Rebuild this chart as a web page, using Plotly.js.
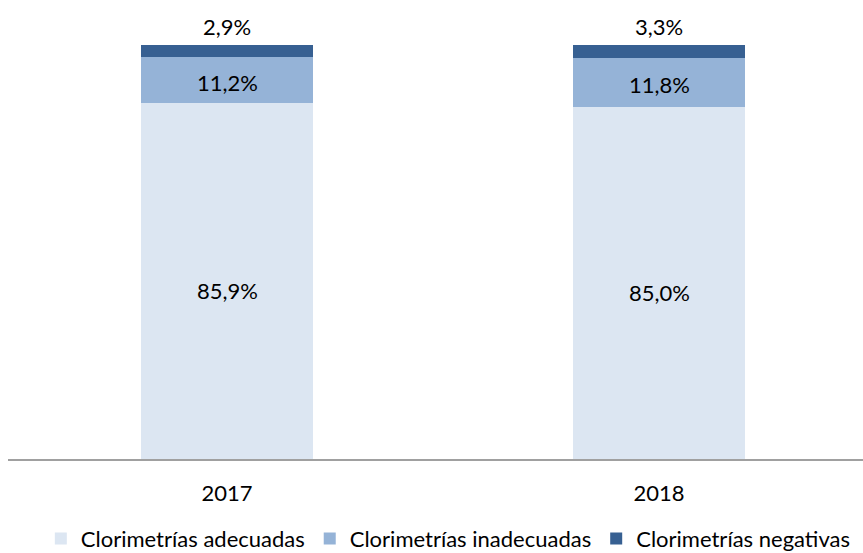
<!DOCTYPE html>
<html>
<head>
<meta charset="utf-8">
<script src="https://cdn.plot.ly/plotly-3.0.1.min.js"></script>
<style>
  html, body { margin: 0; padding: 0; background: #fff; }
  #chart { width: 863px; height: 553px; }
</style>
</head>
<body>
<div id="chart"></div>
<script>
// Clorimetrías por año — barras apiladas al 100 %
const years = ['2017', '2018'];
const adecuadas = [85.9, 85.0];
const inadecuadas = [11.2, 11.8];
const negativas = [2.9, 3.3];
const seriesNames = ['Clorimetrías adecuadas', 'Clorimetrías inadecuadas', 'Clorimetrías negativas'];

const FONT = 'Lato, "Noto Sans", sans-serif';
const FS = 22;
const pct = v => v.toFixed(1).replace('.', ',') + '%';

function bar(name, vals, color) {
  return {
    type: 'bar', name, x: years, y: vals, width: 0.4,
    marker: { color, line: { width: 0 } },
    hoverinfo: 'skip',
  };
}

const data = [
  bar(seriesNames[0], adecuadas, '#DCE6F2'),
  bar(seriesNames[1], inadecuadas, '#95B3D7'),
  bar(seriesNames[2], negativas, '#376092'),
];

// value labels placed from the stacked data (x = category index)
const annotations = [];
years.forEach((yr, i) => {
  const a = adecuadas[i], b = inadecuadas[i], c = negativas[i];
  const lbl = (y, txt, yanchor, yshift) => annotations.push({
    x: i, y, text: txt, showarrow: false, xref: 'x', yref: 'y',
    yanchor, yshift, font: { family: FONT, size: FS, color: '#000' },
  });
  lbl(a / 2, pct(a), 'middle', -9);
  lbl(a + b / 2, pct(b), 'middle', -2);
  lbl(a + b + c, pct(c), 'bottom', 3);
});

const layout = {
  width: 863, height: 553,
  margin: { l: 8, r: 0, t: 41, b: 94, autoexpand: false },
  paper_bgcolor: '#fff', plot_bgcolor: '#fff',
  barmode: 'stack',
  font: { family: FONT, size: FS, color: '#000' },
  showlegend: true,
  legend: {
    orientation: 'h', x: 0.515, xanchor: 'center',
    yref: 'container', y: 0.026, yanchor: 'middle',
    font: { family: FONT, size: FS, color: '#000' }, traceorder: 'normal',
  },
  annotations,
  xaxis: {
    type: 'category', range: [-0.507, 1.472],
    showline: true, linecolor: '#A0A0A0', linewidth: 2,
    ticks: 'outside', ticklen: 14, tickcolor: 'rgba(0,0,0,0)',
    showgrid: false, zeroline: false,
    tickfont: { family: FONT, size: FS, color: '#000' },
  },
  yaxis: { range: [0, 101], visible: false, showgrid: false, zeroline: false },
};

Plotly.newPlot('chart', data, layout, { staticPlot: true, displayModeBar: false });
</script>
</body>
</html>
